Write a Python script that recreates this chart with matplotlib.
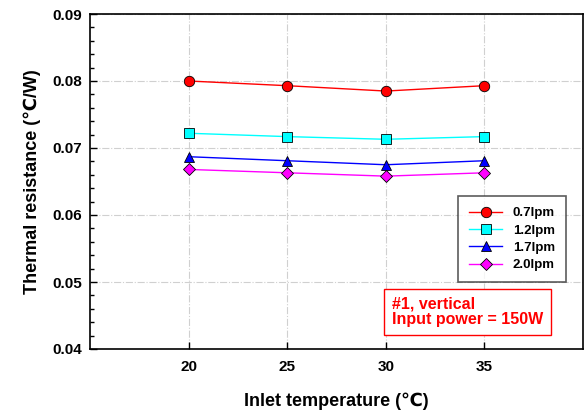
#!/usr/bin/env python

"""
Thermal resistance vs inlet temperature for four flow rates
"""

import numpy as np
import matplotlib
matplotlib.use("Agg")
import matplotlib.pyplot as plt
from matplotlib.ticker import MultipleLocator

inlet_temp = [20, 25, 30, 35]
r_07 = [0.0800, 0.0793, 0.0785, 0.0793]
r_12 = [0.0722, 0.0717, 0.0713, 0.0717]
r_17 = [0.0687, 0.0681, 0.0675, 0.0681]
r_20 = [0.0668, 0.0663, 0.0658, 0.0663]
labels = ["0.7lpm", "1.2lpm", "1.7lpm", "2.0lpm"]


def main():

    plt.rcParams["font.family"] = ["Liberation Sans", "DejaVu Sans"]
    plt.rcParams["font.weight"] = "bold"

    fig = plt.figure(figsize=(5.85, 4.16), dpi=100)
    ax = fig.add_axes([90/585, 1-349/416, 493/585, 335/416])

    series = [r_07, r_12, r_17, r_20]
    colours = ["red", "cyan", "blue", "magenta"]
    markers = ["o", "s", "^", "D"]
    msizes = [7.5, 7, 7.5, 6]

    for vals, c, m, ms, lab in zip(series, colours, markers, msizes, labels):
        ax.plot(inlet_temp, vals, color=c, lw=1, marker=m, ms=ms,
                mfc=c, mec="black", mew=0.6, label=lab)

    ax.set_xlim(15, 40)
    ax.set_ylim(0.04, 0.09)
    ax.set_xticks(inlet_temp)
    ax.yaxis.set_major_locator(MultipleLocator(0.01))
    ax.yaxis.set_minor_locator(MultipleLocator(0.002))
    ax.yaxis.set_major_formatter(plt.FormatStrFormatter("%.2f"))
    ax.tick_params(which="both", direction="in", labelsize=11, width=1)
    ax.tick_params(which="major", length=5, pad=6)
    ax.tick_params(which="minor", length=3)
    ax.tick_params(axis="x", pad=8)
    for lab in ax.get_xticklabels() + ax.get_yticklabels():
        lab.set_fontweight("bold")

    ax.grid(True, which="major", color="#d0d0d0", ls="-.", lw=0.8)
    ax.set_axisbelow(True)
    for sp in ax.spines.values():
        sp.set_linewidth(1.2)

    ax.set_xlabel("Inlet temperature (\u2103)", fontsize=13, fontweight="bold",
                  labelpad=13)
    ax.set_ylabel("Thermal resistance (\u2103/W)", fontsize=13,
                  fontweight="bold", labelpad=8)

    leg = ax.legend(loc="upper left", bbox_to_anchor=(368/493, 1-(196-14)/335),
                    frameon=True, fancybox=False,
                    handlelength=2.5, handletextpad=0.8, borderpad=0.85,
                    labelspacing=0.38, borderaxespad=0.0,
                    prop={"weight": "bold", "size": 9.5})
    leg.get_frame().set_edgecolor("#333333")
    leg.get_frame().set_linewidth(1.2)

    ax.text(0.612, 0.11, "#1, vertical\nInput power = 150W", color="red",
            fontsize=11.5, fontweight="bold", transform=ax.transAxes,
            va="center", ha="left", linespacing=1.05,
            bbox=dict(boxstyle="square,pad=0.5", fc="white", ec="red", lw=1))

    fig.savefig("out.png", dpi=100)


if __name__ == "__main__":

    main()
